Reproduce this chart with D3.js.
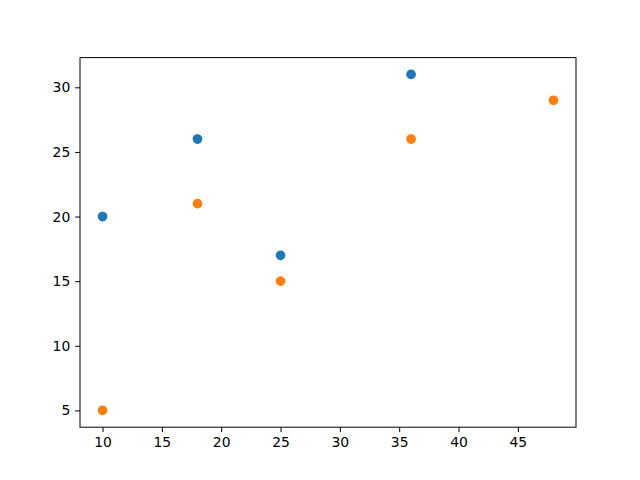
<!DOCTYPE html>
<html><head><meta charset="utf-8">
<script src="https://cdn.jsdelivr.net/npm/d3@7"></script>
<style>body{margin:0;background:#fff}svg{display:block}</style>
</head><body>
<script>
const seriesAX = [10, 18, 25, 36];
const seriesAY = [20, 26, 17, 31];
const seriesBX = [10, 18, 25, 36, 48];
const seriesBY = [5, 21, 15, 26, 29];
const xTicks = [10, 15, 20, 25, 30, 35, 40, 45];
const yTicks = [5, 10, 15, 20, 25, 30];
const colors = ["#1f77b4", "#ff7f0e"];

(function () {
const W = 640, H = 480;
const mLeft = 80, mRight = 576, mTop = 57.6, mBottom = 427.2;
const svg = d3.select("body").append("svg").attr("width", W).attr("height", H);

const allX = seriesAX.concat(seriesBX), allY = seriesAY.concat(seriesBY);
const [x0, x1] = d3.extent(allX), [y0, y1] = d3.extent(allY);
const mx = (x1 - x0) * 0.05, my = (y1 - y0) * 0.05;
const x = d3.scaleLinear().domain([x0 - mx, x1 + mx]).range([mLeft, mRight]);
const y = d3.scaleLinear().domain([y0 - my, y1 + my]).range([mBottom, mTop]);

const font = "DejaVu Sans, sans-serif";
const xa = svg.append("g").attr("transform", `translate(0,${mBottom})`)
  .call(d3.axisBottom(x).tickValues(xTicks).tickSize(4.86).tickPadding(4.86).tickFormat(d3.format("d")));
const ya = svg.append("g").attr("transform", `translate(${mLeft},0)`)
  .call(d3.axisLeft(y).tickValues(yTicks).tickSize(4.86).tickPadding(4.86).tickFormat(d3.format("d")));
[xa, ya].forEach(a => {
  a.select(".domain").remove();
  a.selectAll("line").attr("stroke", "#000").attr("stroke-width", 1);
  a.selectAll("text").attr("font-family", font).attr("font-size", "13.9px").attr("fill", "#000");
});

const series = [[seriesAX, seriesAY], [seriesBX, seriesBY]];
series.forEach(([xs, ys], i) => {
  svg.append("g").selectAll("circle").data(xs.map((d, j) => [d, ys[j]])).join("circle")
    .attr("cx", d => x(d[0])).attr("cy", d => y(d[1])).attr("r", 4.17)
    .attr("fill", colors[i]).attr("stroke", colors[i]).attr("stroke-width", 1.39);
});

svg.append("rect").attr("x", mLeft).attr("y", mTop).attr("width", mRight - mLeft).attr("height", mBottom - mTop)
  .attr("fill", "none").attr("stroke", "#000").attr("stroke-width", 1);
})();
</script>
</body></html>
